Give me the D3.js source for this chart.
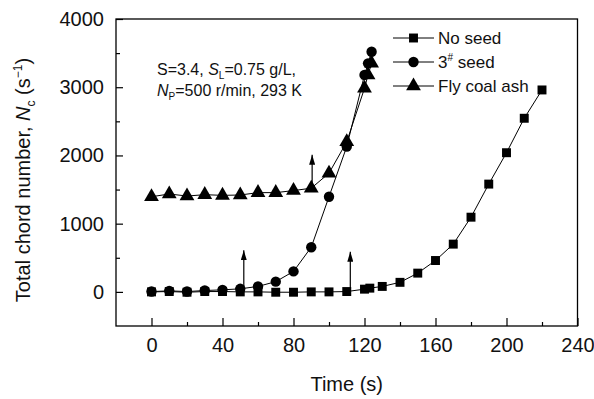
<!DOCTYPE html>
<html>
<head>
<meta charset="utf-8">
<script src="https://cdn.jsdelivr.net/npm/d3@7"></script>
<style>
  body { margin: 0; background: #fff; }
  text { font-family: Arial, "Liberation Sans", sans-serif; fill: #111; }
</style>
</head>
<body>
<div id="chart"></div>
<script>
// chord number vs time, three runs

const noSeedT = [0, 10, 20, 30, 40, 50, 60, 70, 80, 90, 100, 110, 120, 123, 130, 140, 150, 160, 170, 180, 190, 200, 210, 220];
const noSeedN = [0, 5, -5, 5, 5, 0, 0, -5, -5, 0, 0, 5, 40, 55, 80, 140, 275, 460, 700, 1095, 1580, 2040, 2545, 2960];

const seed3T = [0, 10, 20, 30, 40, 50, 60, 70, 80, 90, 100, 110, 120, 122, 124];
const seed3N = [5, 15, 5, 20, 30, 45, 80, 150, 300, 655, 1395, 2130, 3180, 3350, 3520];

const ashT = [0, 10, 20, 30, 40, 50, 60, 70, 80, 90, 100, 110, 120, 122, 124];
const ashN = [1395, 1435, 1405, 1425, 1415, 1420, 1455, 1455, 1485, 1520, 1740, 2200, 2985, 3180, 3350];

// arrows: time, start value, tip value
const arrowT = [52, 112, 90.5];
const arrowFrom = [45, 30, 1530];
const arrowTo = [610, 590, 2010];

const xMajor = [0, 40, 80, 120, 160, 200, 240];
const xMinor = [20, 60, 100, 140, 180, 220];
const yMajor = [0, 1000, 2000, 3000, 4000];
const yMinor = [500, 1500, 2500, 3500];

const seriesNames = ["No seed", "3# seed", "Fly coal ash"];
const seriesSymbols = [d3.symbolSquare, d3.symbolCircle, d3.symbolTriangle];
const symbolSizes = [80, 85, 95];

const width = 594, height = 399;
const margin = {top: 19, right: 16.5, bottom: 73, left: 116};

const svg = d3.select("#chart").append("svg")
    .attr("width", width)
    .attr("height", height);

const x = d3.scaleLinear().domain([-20, 240]).range([margin.left, width - margin.right]);
const y = d3.scaleLinear().domain([-500, 4000]).range([height - margin.bottom, margin.top]);

// axes, ticks pointing in
svg.append("g")
    .attr("transform", `translate(0,${height - margin.bottom})`)
    .call(d3.axisBottom(x).tickValues(xMajor).tickSize(-8).tickPadding(12).tickFormat(d3.format("d")));
svg.append("g")
    .attr("transform", `translate(0,${height - margin.bottom})`)
    .call(d3.axisBottom(x).tickValues(xMinor).tickSize(-4).tickFormat(""));
svg.append("g")
    .attr("transform", `translate(${margin.left},0)`)
    .call(d3.axisLeft(y).tickValues(yMajor).tickSize(-7).tickPadding(12).tickFormat(d3.format("d")));
svg.append("g")
    .attr("transform", `translate(${margin.left},0)`)
    .call(d3.axisLeft(y).tickValues(yMinor).tickSize(-4).tickFormat(""));

svg.selectAll(".domain").remove();
svg.selectAll(".tick line").attr("stroke", "#000").attr("stroke-width", 1.2);
svg.selectAll(".tick text")
    .style("font-size", "20px")
    .style("fill", "#111")
    .style("font-family", "Arial, 'Liberation Sans', sans-serif");

// frame
svg.append("rect")
    .attr("x", x(-20))
    .attr("y", y(4000))
    .attr("width", x(240) - x(-20))
    .attr("height", y(-500) - y(4000))
    .attr("fill", "none")
    .attr("stroke", "#000")
    .attr("stroke-width", 1.3);

// series
const series = [
  noSeedT.map((t, i) => ({t: t, n: noSeedN[i]})),
  seed3T.map((t, i) => ({t: t, n: seed3N[i]})),
  ashT.map((t, i) => ({t: t, n: ashN[i]}))
];

const line = d3.line().x(d => x(d.t)).y(d => y(d.n));

series.forEach(function(data, k) {
  svg.append("path")
      .datum(data)
      .attr("d", line)
      .attr("fill", "none")
      .attr("stroke", "#000")
      .attr("stroke-width", 1);
});

series.forEach(function(data, k) {
  svg.append("g").selectAll("path")
    .data(data)
    .join("path")
      .attr("transform", d => `translate(${x(d.t)},${y(d.n)})`)
      .attr("d", d3.symbol().type(seriesSymbols[k]).size(symbolSizes[k]))
      .attr("fill", "#000");
});

// arrows
svg.append("defs").append("marker")
    .attr("id", "head")
    .attr("viewBox", "0 0 10 6")
    .attr("refX", 10)
    .attr("refY", 3)
    .attr("markerUnits", "userSpaceOnUse")
    .attr("markerWidth", 10)
    .attr("markerHeight", 6)
    .attr("orient", "auto")
  .append("path")
    .attr("d", "M0,0L10,3L0,6Z")
    .attr("fill", "#000");

svg.append("g").selectAll("line")
  .data(arrowT)
  .join("line")
    .attr("x1", d => x(d))
    .attr("x2", d => x(d))
    .attr("y1", (d, i) => y(arrowFrom[i]))
    .attr("y2", (d, i) => y(arrowTo[i]))
    .attr("stroke", "#000")
    .attr("stroke-width", 1.2)
    .attr("marker-end", "url(#head)");

// legend
const leg = svg.append("g");
seriesNames.forEach(function(name, i) {
  const ly = 38 + i * 24;
  leg.append("line")
      .attr("x1", 393).attr("x2", 434)
      .attr("y1", ly).attr("y2", ly)
      .attr("stroke", "#000").attr("stroke-width", 1);
  leg.append("path")
      .attr("transform", `translate(413.5,${ly})`)
      .attr("d", d3.symbol().type(seriesSymbols[i]).size(symbolSizes[i]))
      .attr("fill", "#000");
  const t = leg.append("text")
      .attr("x", 438)
      .attr("y", ly + 6)
      .style("font-size", "17px");
  if (i === 1) {
    t.append("tspan").text("3");
    t.append("tspan").attr("dy", -7).style("font-size", "10px").text("#");
    t.append("tspan").attr("dy", 7).text(" seed");
  } else {
    t.text(name);
  }
});

// condition note
const note1 = svg.append("text").attr("x", 157).attr("y", 75).style("font-size", "16px");
note1.append("tspan").text("S=3.4, ");
note1.append("tspan").style("font-style", "italic").text("S");
note1.append("tspan").attr("dy", 4).style("font-size", "10px").text("L");
note1.append("tspan").attr("dy", -4).text("=0.75 g/L,");

const note2 = svg.append("text").attr("x", 157).attr("y", 96).style("font-size", "16px");
note2.append("tspan").style("font-style", "italic").text("N");
note2.append("tspan").attr("dy", 4).style("font-size", "10px").text("P");
note2.append("tspan").attr("dy", -4).text("=500 r/min, 293 K");

// axis titles
svg.append("text")
    .attr("x", (x(-20) + x(240)) / 2)
    .attr("y", 391)
    .attr("text-anchor", "middle")
    .style("font-size", "20px")
    .text("Time (s)");

const yt = svg.append("text")
    .attr("transform", "translate(30,180) rotate(-90)")
    .attr("text-anchor", "middle")
    .style("font-size", "20px");
yt.append("tspan").text("Total chord number, ");
yt.append("tspan").style("font-style", "italic").text("N");
yt.append("tspan").attr("dy", 5).style("font-size", "12px").text("c");
yt.append("tspan").attr("dy", -5).text(" (s");
yt.append("tspan").attr("dy", -8).style("font-size", "12px").text("\u22121");
yt.append("tspan").attr("dy", 8).text(")");
</script>
</body>
</html>
